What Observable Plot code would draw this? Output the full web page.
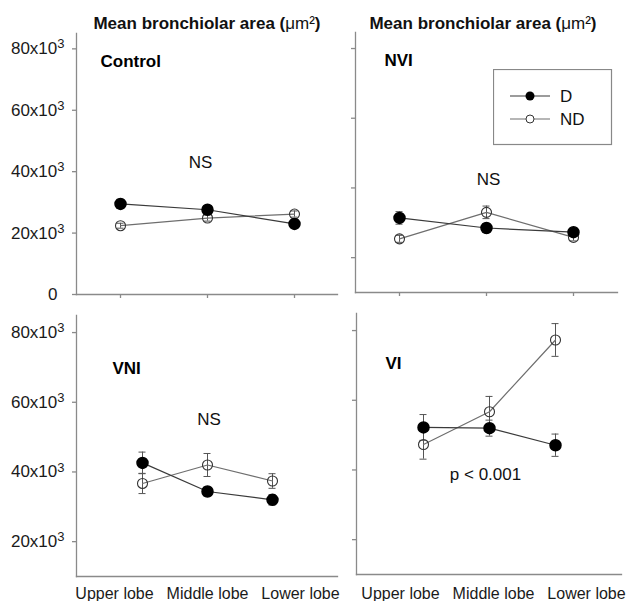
<!DOCTYPE html>
<html><head><meta charset="utf-8">
<script src="https://cdn.jsdelivr.net/npm/d3@7"></script>
<script src="https://cdn.jsdelivr.net/npm/@observablehq/plot@0.6"></script>
<style>
html,body{margin:0;padding:0;background:#fff;overflow:hidden}
#chart{position:relative;width:626px;height:601px;font-family:"Liberation Sans",Arial,sans-serif;color:#111}
#chart > *{position:absolute}
.title{font-weight:bold;font-size:17px;line-height:20px;white-space:nowrap;transform:translateX(-50%)}
.title .u{font-weight:normal}
</style></head><body><div id="chart"></div>
<script>
// ---- data ----
const lobes = ["Upper lobe", "Middle lobe", "Lower lobe"];
const groups = ["Control", "NVI", "VNI", "VI"];
const stats = ["NS", "NS", "NS", "p < 0.001"];
const seriesNames = ["D", "ND"];
const yTicksLabeled = [0, 20000, 40000, 60000, 80000];
const yTicks = [20000, 40000, 60000, 80000];

const controlD = [29500, 27600, 23000];
const controlDErr = [1500, 900, 800];
const controlND = [22400, 24900, 26200];
const controlNDErr = [800, 1000, 1000];

const nviD = [31400, 28500, 27300];
const nviDErr = [1800, 1300, 1000];
const nviND = [25400, 33000, 25800];
const nviNDErr = [1000, 1800, 1000];

const vniD = [42600, 34400, 32000];
const vniDErr = [3100, 1300, 1500];
const vniND = [36700, 42000, 37400];
const vniNDErr = [2900, 3300, 2100];

const viD = [52200, 52000, 47100];
const viDErr = [3700, 2300, 3200];
const viND = [47300, 56700, 77300];
const viNDErr = [4200, 4400, 4700];

// ---- styles ----
const axisColor = "#8a8a8a";
const errColor = "#555";
const dLine = "#3a3a3a";
const ndLine = "#6e6e6e";
const font = '"Liberation Sans", Arial, sans-serif';
const chart = document.getElementById("chart");
const fmt = d => d === 0 ? "0" : `${d / 1000}x10³`;

function superscripts(svg) {
  svg.querySelectorAll("text").forEach(t => {
    const s = t.textContent;
    if (s.endsWith("x10³")) {
      const base = s.slice(0, -1);
      t.textContent = "";
      t.appendChild(document.createTextNode(base));
      const sup = document.createElementNS("http://www.w3.org/2000/svg", "tspan");
      sup.setAttribute("dy", "-0.45em");
      sup.setAttribute("font-size", "13");
      sup.textContent = "3";
      t.appendChild(sup);
    } else if (s === "0") {
      t.setAttribute("transform", (t.getAttribute("transform") || "") + " translate(-7,0)");
    }
  });
}

function panel(cfg) {
  const rows = (vals, errs, s) => lobes.map((lobe, i) => ({lobe, v: vals[i], e: errs[i], s}));
  const D = rows(cfg.d, cfg.dErr, seriesNames[0]);
  const ND = rows(cfg.nd, cfg.ndErr, seriesNames[1]);
  const all = [...ND, ...D];
  const marks = [
    Plot.frame({anchor: "bottom", stroke: axisColor, strokeOpacity: 1, strokeWidth: 1.3}),
    Plot.frame({anchor: "left", stroke: axisColor, strokeOpacity: 1, strokeWidth: 1.3}),
    Plot.axisY({ticks: cfg.ticks, tickSize: 4, tickPadding: 8, tickFormat: cfg.labels ? fmt : () => "",
      stroke: axisColor, strokeWidth: 1.3, fill: "#1a1a1a", fontSize: 17, label: null})
  ];
  if (cfg.xTicks) marks.push(Plot.axisX({tickSize: 4, tickFormat: () => "", stroke: axisColor, strokeWidth: 1.3, label: null}));
  marks.push(
    Plot.ruleX(all, {x: "lobe", y1: d => d.v - d.e, y2: d => d.v + d.e, stroke: errColor}),
    Plot.ruleY(all, {x1: "lobe", x2: "lobe", y: d => d.v + d.e, insetLeft: -3.5, insetRight: -3.5, stroke: errColor}),
    Plot.ruleY(all, {x1: "lobe", x2: "lobe", y: d => d.v - d.e, insetLeft: -3.5, insetRight: -3.5, stroke: errColor}),
    Plot.line(ND, {x: "lobe", y: "v", stroke: ndLine, strokeWidth: 1.2}),
    Plot.line(D, {x: "lobe", y: "v", stroke: dLine, strokeWidth: 1.2}),
    Plot.dot(ND, {x: "lobe", y: "v", r: 5, stroke: "#333", strokeWidth: 1.1, fill: "none"}),
    Plot.dot(D, {x: "lobe", y: "v", r: 5.5, fill: "#000", stroke: "#000"}),
    Plot.text([cfg.group], {x: () => lobes[0], y: () => cfg.nameY, text: d => d, dx: cfg.nameDx,
      textAnchor: "start", fontWeight: "bold", fontSize: 17, fill: "#000"}),
    Plot.text([cfg.stat], {x: () => lobes[1], y: () => cfg.statY, text: d => d, dx: cfg.statDx,
      fontSize: 17, fill: "#111"})
  );
  const svg = Plot.plot({
    width: cfg.width, height: cfg.height,
    marginLeft: cfg.ml, marginRight: cfg.mr, marginTop: cfg.mt, marginBottom: cfg.mb,
    x: Object.assign({type: "point", domain: lobes, padding: cfg.padding}, cfg.xTicks ? {} : {axis: null}),
    y: {domain: cfg.yDomain},
    marks,
    style: {fontFamily: font, fontSize: "16px", background: "transparent", overflow: "visible", color: "#1a1a1a"}
  });
  superscripts(svg);
  svg.style.left = cfg.left + "px";
  svg.style.top = cfg.top + "px";
  chart.appendChild(svg);
}

panel({group: groups[0], stat: stats[0], d: controlD, dErr: controlDErr, nd: controlND, ndErr: controlNDErr,
  left: 0, top: 0, width: 345, height: 310, ml: 76, mr: 8, mt: 33, mb: 16,
  yDomain: [0, 85000], ticks: yTicksLabeled, labels: true, xTicks: true, padding: 0.5,
  nameY: 76000, nameDx: -20, statY: 42900, statDx: -7});
panel({group: groups[1], stat: stats[1], d: nviD, dErr: nviDErr, nd: nviND, ndErr: nviNDErr,
  left: 300, top: 0, width: 326, height: 310, ml: 55, mr: 9, mt: 32, mb: 18,
  yDomain: [10000, 84600], ticks: yTicks, labels: false, xTicks: true, padding: 0.5,
  nameY: 76600, nameDx: -15, statY: 42400, statDx: 2});
panel({group: groups[2], stat: stats[2], d: vniD, dErr: vniDErr, nd: vniND, ndErr: vniNDErr,
  left: 0, top: 300, width: 345, height: 280, ml: 76, mr: 8, mt: 15, mb: 4,
  yDomain: [10000, 84900], ticks: yTicks, labels: true, xTicks: false, padding: 1,
  nameY: 69700, nameDx: -30, statY: 55000, statDx: 1.5});
panel({group: groups[3], stat: stats[3], d: viD, dErr: viDErr, nd: viND, ndErr: viNDErr,
  left: 300, top: 298, width: 326, height: 280, ml: 56, mr: 5, mt: 15, mb: 4,
  yDomain: [10000, 84900], ticks: yTicks, labels: false, xTicks: false, padding: 1,
  nameY: 70500, nameDx: -38, statY: 38700, statDx: -4});

// category labels along the bottom
function strip(left, width, ml, mr) {
  const svg = Plot.plot({
    width, height: 22, marginLeft: ml, marginRight: mr, marginTop: 0, marginBottom: 0,
    x: {type: "point", domain: lobes, padding: 0.5, axis: null},
    marks: [Plot.text(lobes, {x: d => d, text: d => d, frameAnchor: "middle", fontSize: 16, fill: "#1a1a1a"})],
    style: {fontFamily: font, fontSize: "16px", background: "transparent", overflow: "visible"}
  });
  svg.style.left = left + "px";
  svg.style.top = "582px";
  chart.appendChild(svg);
}
strip(0, 360, 67, 13);
strip(300, 340, 53, 7);

// titles
for (const cx of [207, 483]) {
  const t = document.createElement("div");
  t.className = "title";
  t.style.left = cx + "px";
  t.style.top = "14px";
  t.innerHTML = 'Mean bronchiolar area (<span class="u">μm²</span>)';
  chart.appendChild(t);
}

// legend
const ns = "http://www.w3.org/2000/svg";
const lg = document.createElementNS(ns, "svg");
lg.setAttribute("width", 120); lg.setAttribute("height", 77);
lg.style.left = "493px"; lg.style.top = "69px";
lg.innerHTML = `<rect x="0.5" y="0.5" width="118" height="75" fill="none" stroke="#888" stroke-width="1.2"/>` +
  seriesNames.map((s, i) => {
    const y = 27 + i * 23;
    const marker = i === 0
      ? `<circle cx="37" cy="${y}" r="4.5" fill="#000"/>`
      : `<circle cx="37" cy="${y}" r="4" fill="#fff" stroke="#333" stroke-width="1"/>`;
    return `<line x1="17" x2="57" y1="${y}" y2="${y}" stroke="${i === 0 ? dLine : ndLine}" stroke-width="1.1"/>${marker}` +
      `<text x="67" y="${y}" dy="0.36em" font-family='${font}' font-size="17" fill="#111">${s}</text>`;
  }).join("");
chart.appendChild(lg);
</script></body></html>
